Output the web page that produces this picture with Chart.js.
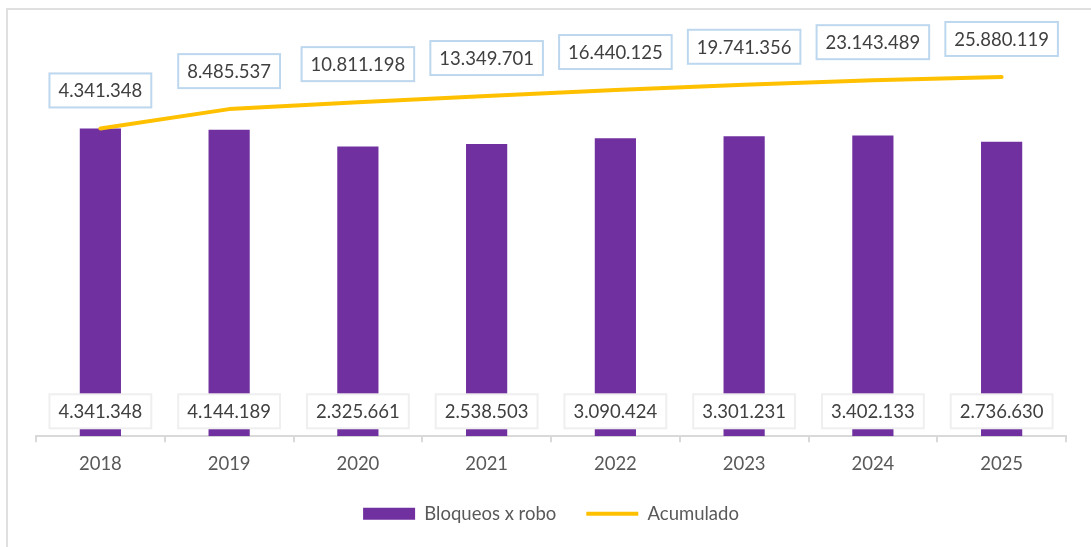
<!DOCTYPE html>
<html>
<head>
<meta charset="utf-8">
<script src="https://cdn.jsdelivr.net/npm/chart.js@4/dist/chart.umd.min.js"></script>
<style>
  html, body { margin: 0; padding: 0; background: #fff; overflow: hidden; }
  #wrap { position: relative; width: 1091px; height: 547px; }
  #frame { position: absolute; left: 6px; top: 8px; width: 2000px; height: 2000px; border: 2px solid #e0e0e0; box-sizing: border-box; pointer-events: none; }
  canvas { position: absolute; left: 0; top: 0; }
</style>
</head>
<body>
<div id="wrap">
  <div id="frame"></div>
  <canvas id="c" width="1091" height="547"></canvas>
</div>
<script>
const categories = ['2018', '2019', '2020', '2021', '2022', '2023', '2024', '2025'];
const bloqueos = [4341348, 4144189, 2325661, 2538503, 3090424, 3301231, 3402133, 2736630];
const acumulado = [4341348, 8485537, 10811198, 13349701, 16440125, 19741356, 23143489, 25880119];
const seriesNames = ['Bloqueos x robo', 'Acumulado'];

const FONT = 'Lato';
function fmt(v) { return String(Math.round(v)).replace(/\B(?=(\d{3})+(?!\d))/g, '.'); }

function drawBox(ctx, text, x, y, border) {
  ctx.font = '18.5px ' + FONT;
  const w = ctx.measureText(text).width + 18;
  const h = 34;
  ctx.fillStyle = '#ffffff';
  ctx.fillRect(x - w / 2, y - h / 2, w, h);
  ctx.lineWidth = 2;
  ctx.strokeStyle = border;
  ctx.strokeRect(x - w / 2, y - h / 2, w, h);
  ctx.fillStyle = '#404040';
  ctx.textAlign = 'center';
  ctx.textBaseline = 'middle';
  ctx.fillText(text, x, y + 1);
}

const boxLabels = {
  id: 'boxLabels',
  afterDatasetsDraw(chart) {
    const ctx = chart.ctx;
    ctx.save();
    const barMeta = chart.getDatasetMeta(0);
    barMeta.data.forEach((el, i) => {
      drawBox(ctx, fmt(bloqueos[i]), el.x, chart.chartArea.bottom - 25, '#efefef');
    });
    const lineMeta = chart.getDatasetMeta(1);
    lineMeta.data.forEach((el, i) => {
      drawBox(ctx, fmt(acumulado[i]), el.x, el.y - 38, '#bdd7ee');
    });
    ctx.restore();
  }
};

new Chart(document.getElementById('c'), {
  type: 'bar',
  data: {
    labels: categories,
    datasets: [
      {
        label: seriesNames[0],
        data: bloqueos,
        backgroundColor: '#7030A0',
        borderWidth: 0,
        barPercentage: 0.32,
        categoryPercentage: 1.0,
        order: 1
      },
      {
        type: 'line',
        label: seriesNames[1],
        data: acumulado,
        borderColor: '#FFC000',
        backgroundColor: '#FFC000',
        borderWidth: 4,
        borderCapStyle: 'round',
        borderJoinStyle: 'round',
        pointRadius: 0,
        pointHoverRadius: 0,
        tension: 0,
        order: 0
      }
    ]
  },
  options: {
    responsive: false,
    animation: false,
    layout: { padding: { left: 36, right: 25, top: 38, bottom: 14 } },
    scales: {
      x: {
        offset: true,
        afterFit: (scale) => { scale.height = scale.height - 12; },
        grid: { display: true, drawOnChartArea: false, drawTicks: true, tickLength: 6, color: '#d9d9d9', lineWidth: 2, offset: true },
        border: { display: true, color: '#d9d9d9', width: 2 },
        ticks: { color: '#595959', font: { family: FONT, size: 18.5 }, padding: 11 }
      },
      y: {
        type: 'logarithmic',
        min: 100,
        max: 100000000,
        display: false
      }
    },
    plugins: {
      legend: {
        position: 'bottom',
        labels: {
          usePointStyle: true,
          pointStyleWidth: 52,
          boxHeight: 12,
          padding: 30,
          color: '#595959',
          font: { family: FONT, size: 18.5 },
          sort: (a, b) => a.datasetIndex - b.datasetIndex,
          generateLabels: (chart) => {
            const items = Chart.defaults.plugins.legend.labels.generateLabels(chart);
            items.forEach(it => { it.pointStyle = it.datasetIndex === 0 ? 'rect' : 'line'; });
            return items;
          }
        }
      },
      tooltip: { enabled: false }
    }
  },
  plugins: [boxLabels]
});
</script>
</body>
</html>
